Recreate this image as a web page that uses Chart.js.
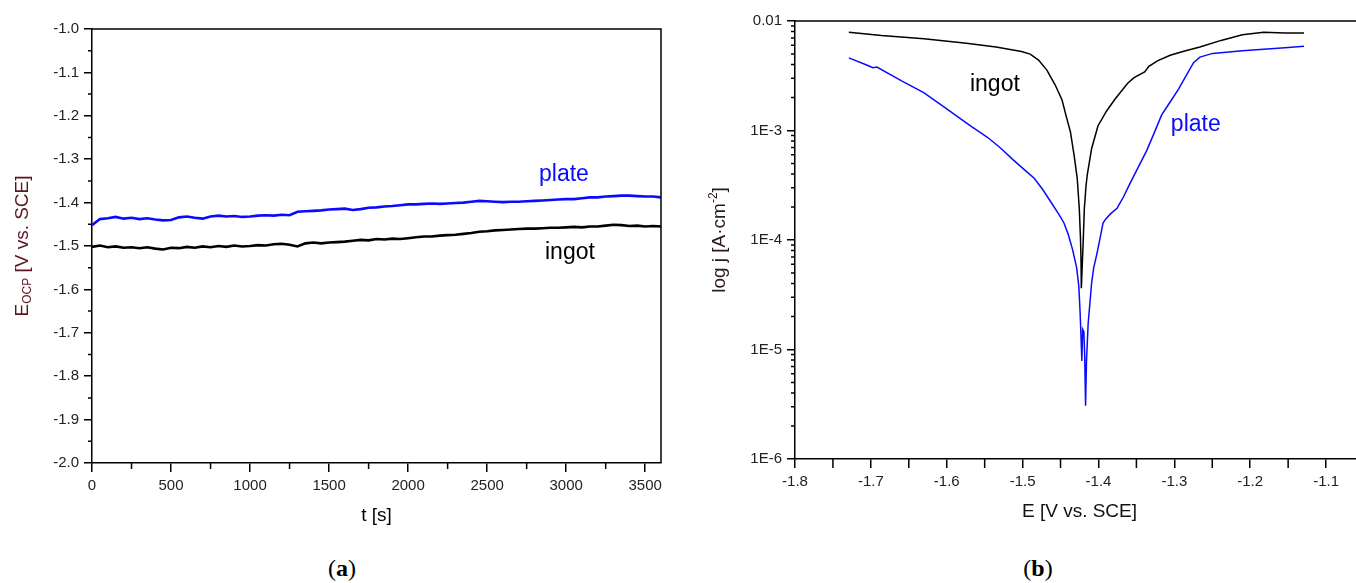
<!DOCTYPE html>
<html lang="en">

<head>
    <meta charset="UTF-8">
    <title>OCP and polarization curves</title>
    <script src="https://cdn.jsdelivr.net/npm/chart.js"></script>
    <style>
        body { margin: 0; background: #fff; overflow: hidden; width: 1356px; height: 583px; position: relative; }
        canvas { position: absolute; top: 0; }
        #ocpChart { left: 0; }
        #polChart { left: 700px; }
        .caption { position: absolute; top: 555px; font: 24px "Liberation Serif", "DejaVu Serif", serif; color: #000; transform: translateX(-50%); }
        .caption b { font-weight: bold; }
    </style>
</head>

<body>
    <canvas id="ocpChart" width="680" height="540"></canvas>
    <canvas id="polChart" width="680" height="540"></canvas>
    <div class="caption" style="left:342px">(<b>a</b>)</div>
    <div class="caption" style="left:1038px">(<b>b</b>)</div>

    <script>
        /** data (a) : open circuit potential vs time **/
        const timeS = [0, 50, 100, 150, 200, 250, 300, 350, 400, 450, 500, 550, 600, 650, 700, 750, 800, 850, 900, 950,
            1000, 1050, 1100, 1150, 1200, 1250, 1300, 1350, 1400, 1450, 1500, 1550, 1600, 1650, 1700, 1750, 1800, 1850, 1900, 1950,
            2000, 2050, 2100, 2150, 2200, 2250, 2300, 2350, 2400, 2450, 2500, 2550, 2600, 2650, 2700, 2750, 2800, 2850, 2900, 2950,
            3000, 3050, 3100, 3150, 3200, 3250, 3300, 3350, 3400, 3450, 3500, 3550, 3600];
        const plateOcp = [-1.452, -1.438, -1.436, -1.433, -1.437, -1.435, -1.438, -1.436, -1.439, -1.441, -1.440, -1.434, -1.432, -1.435, -1.437, -1.432, -1.430, -1.432, -1.431, -1.433,
            -1.432, -1.430, -1.429, -1.430, -1.428, -1.429, -1.421, -1.420, -1.419, -1.418, -1.416, -1.415, -1.414, -1.417, -1.415, -1.412, -1.411, -1.409, -1.408, -1.406,
            -1.404, -1.404, -1.403, -1.402, -1.403, -1.402, -1.401, -1.400, -1.398, -1.396, -1.397, -1.398, -1.399, -1.398, -1.398, -1.397, -1.396, -1.395, -1.394, -1.393,
            -1.392, -1.392, -1.390, -1.388, -1.388, -1.386, -1.385, -1.384, -1.384, -1.385, -1.386, -1.386, -1.388];
        const ingotOcp = [-1.502, -1.499, -1.503, -1.501, -1.504, -1.503, -1.505, -1.503, -1.506, -1.508, -1.504, -1.505, -1.502, -1.504, -1.501, -1.503, -1.500, -1.502, -1.499, -1.501,
            -1.500, -1.498, -1.499, -1.496, -1.495, -1.497, -1.501, -1.494, -1.492, -1.494, -1.492, -1.491, -1.490, -1.488, -1.486, -1.487, -1.484, -1.485, -1.483, -1.484,
            -1.482, -1.480, -1.478, -1.478, -1.476, -1.475, -1.474, -1.472, -1.470, -1.467, -1.466, -1.464, -1.463, -1.462, -1.461, -1.460, -1.460, -1.459, -1.458, -1.458,
            -1.457, -1.456, -1.457, -1.455, -1.455, -1.453, -1.451, -1.452, -1.454, -1.453, -1.455, -1.454, -1.455];
        const timeTicks = [0, 500, 1000, 1500, 2000, 2500, 3000, 3500];
        const timeMinor = [250, 750, 1250, 1750, 2250, 2750, 3250];
        const ocpTicks = [-2.0, -1.9, -1.8, -1.7, -1.6, -1.5, -1.4, -1.3, -1.2, -1.1, -1.0];
        const ocpMinor = [-1.95, -1.85, -1.75, -1.65, -1.55, -1.45, -1.35, -1.25, -1.15, -1.05];

        /** data (b) : potentiodynamic polarization **/
        const ingotE = [-1.729, -1.686, -1.630, -1.574, -1.535, -1.5015, -1.490, -1.479, -1.468, -1.457, -1.448, -1.443, -1.437, -1.432, -1.428, -1.4253, -1.4237, -1.423, -1.4226,
            -1.4203, -1.4186, -1.4164, -1.4147, -1.409, -1.4007, -1.3895, -1.3783, -1.3615, -1.3531, -1.3391, -1.3335, -1.3223, -1.3055, -1.2887, -1.2663, -1.2383, -1.2103, -1.1823, -1.1543, -1.1291];
        const ingotJ = [7.9e-3, 7.36e-3, 6.87e-3, 6.25e-3, 5.78e-3, 5.26e-3, 4.98e-3, 4.40e-3, 3.56e-3, 2.60e-3, 1.90e-3, 1.39e-3, 9.74e-4, 5.86e-4, 3.66e-4, 1.95e-4, 1.04e-4, 6.52e-5, 3.62e-5,
            8.93e-5, 1.95e-4, 3.13e-4, 3.96e-4, 6.85e-4, 1.10e-3, 1.50e-3, 1.93e-3, 2.70e-3, 3.04e-3, 3.42e-3, 3.85e-3, 4.33e-3, 4.86e-3, 5.26e-3, 5.78e-3, 6.65e-3, 7.48e-3, 7.9e-3, 7.79e-3, 7.79e-3];
        const plateE = [-1.729, -1.7031, -1.6975, -1.692, -1.6583, -1.6303, -1.6023, -1.5687, -1.5463, -1.5295, -1.5127, -1.4959, -1.4847, -1.4735, -1.4623, -1.4511, -1.4455, -1.4399, -1.4343,
            -1.4287, -1.4259, -1.4242, -1.423, -1.4219, -1.4208, -1.4192, -1.4181, -1.417, -1.4158, -1.4136, -1.409, -1.4063, -1.4018, -1.3979, -1.394, -1.3906, -1.3839, -1.3755, -1.3671,
            -1.3587, -1.3475, -1.3363, -1.3279, -1.3167, -1.3055, -1.2943, -1.2831, -1.2747, -1.2663, -1.2495, -1.2103, -1.1543, -1.1291];
        const plateJ = [4.60e-3, 3.90e-3, 3.75e-3, 3.80e-3, 2.81e-3, 2.22e-3, 1.62e-3, 1.10e-3, 8.67e-4, 6.96e-4, 5.42e-4, 4.28e-4, 3.66e-4, 2.89e-4, 2.20e-4, 1.67e-4, 1.43e-4, 1.13e-4, 8.26e-5,
            5.57e-5, 3.77e-5, 2.18e-5, 1.31e-5, 7.86e-6, 1.53e-5, 1.45e-5, 8.5e-6, 3.07e-6, 7.86e-6, 1.72e-5, 4.07e-5, 5.57e-5, 7.63e-5, 1.04e-4, 1.43e-4, 1.55e-4, 1.74e-4, 1.95e-4, 2.47e-4,
            3.25e-4, 4.63e-4, 6.59e-4, 9.02e-4, 1.39e-3, 1.82e-3, 2.40e-3, 3.29e-3, 4.16e-3, 4.68e-3, 5.06e-3, 5.34e-3, 5.69e-3, 5.87e-3];
        const eTicks = [-1.8, -1.7, -1.6, -1.5, -1.4, -1.3, -1.2, -1.1];
        const eMinor = [-1.75, -1.65, -1.55, -1.45, -1.35, -1.25, -1.15];
        const jTicks = [1e-6, 1e-5, 1e-4, 1e-3, 1e-2];
        const jTickLabels = ["1E-6", "1E-5", "1E-4", "1E-3", "0.01"];
        const jMinor = [2e-6, 3e-6, 4e-6, 5e-6, 6e-6, 7e-6, 8e-6, 9e-6, 2e-5, 3e-5, 4e-5, 5e-5, 6e-5, 7e-5, 8e-5, 9e-5,
            2e-4, 3e-4, 4e-4, 5e-4, 6e-4, 7e-4, 8e-4, 9e-4, 2e-3, 3e-3, 4e-3, 5e-3, 6e-3, 7e-3, 8e-3, 9e-3];

        const FONT = '"Liberation Sans", Arial, sans-serif';
        const BLUE = '#0a0aff';
        Chart.defaults.font.family = FONT;

        /** small plugins **/
        // top / right frame line
        const frame = {
            id: 'frame',
            afterDraw(chart) {
                const { ctx, chartArea: a } = chart;
                ctx.save();
                ctx.strokeStyle = '#000';
                ctx.lineWidth = 1.5;
                ctx.beginPath();
                ctx.moveTo(a.left, a.top);
                ctx.lineTo(a.right, a.top);
                ctx.lineTo(a.right, a.bottom);
                ctx.stroke();
                ctx.restore();
            }
        };

        // minor ticks drawn through the scales
        function makeMinorTicks(xVals, xLen, yVals, yLen) {
            return {
                id: 'minorTicks',
                afterDraw(chart) {
                    const { ctx, chartArea: a, scales } = chart;
                    ctx.save();
                    ctx.strokeStyle = '#000';
                    ctx.lineWidth = 1.5;
                    ctx.beginPath();
                    xVals.forEach(v => {
                        const px = scales.x.getPixelForValue(v);
                        ctx.moveTo(px, a.bottom);
                        ctx.lineTo(px, a.bottom + xLen);
                    });
                    yVals.forEach(v => {
                        const py = scales.y.getPixelForValue(v);
                        ctx.moveTo(a.left, py);
                        ctx.lineTo(a.left - yLen, py);
                    });
                    ctx.stroke();
                    ctx.restore();
                }
            };
        }

        // curve names placed in data coordinates
        function makeCurveLabels(items) {
            return {
                id: 'curveLabels',
                afterDatasetsDraw(chart) {
                    const { ctx, scales } = chart;
                    ctx.save();
                    ctx.font = '23px ' + FONT;
                    ctx.textAlign = 'left';
                    ctx.textBaseline = 'alphabetic';
                    items.forEach(it => {
                        ctx.fillStyle = it.color;
                        ctx.fillText(it.text, scales.x.getPixelForValue(it.x), scales.y.getPixelForValue(it.y));
                    });
                    ctx.restore();
                }
            };
        }

        // vertical axis title with sub/superscript parts
        function makeRichTitle(xPos, color, parts) {
            return {
                id: 'richTitle',
                afterDraw(chart) {
                    const { ctx, chartArea: a } = chart;
                    ctx.save();
                    let total = 0;
                    const widths = parts.map(p => {
                        ctx.font = p.size + 'px ' + FONT;
                        const w = ctx.measureText(p.text).width;
                        total += w;
                        return w;
                    });
                    ctx.translate(xPos, (a.top + a.bottom) / 2);
                    ctx.rotate(-Math.PI / 2);
                    ctx.fillStyle = color;
                    ctx.textAlign = 'left';
                    ctx.textBaseline = 'middle';
                    let x = -total / 2;
                    parts.forEach((p, i) => {
                        ctx.font = p.size + 'px ' + FONT;
                        ctx.fillText(p.text, x, p.shift || 0);
                        x += widths[i];
                    });
                    ctx.restore();
                }
            };
        }

        const axisLine = { display: true, color: '#000', width: 1.5 };
        const tickFont = { family: FONT, size: 15 };
        const tickGrid = (len) => ({ display: true, drawOnChartArea: false, drawTicks: true, tickLength: len, color: '#000', lineWidth: 1.5 });

        document.addEventListener("DOMContentLoaded", () => {
            /** chart (a) **/
            new Chart(document.getElementById('ocpChart').getContext('2d'), {
                type: 'line',
                data: {
                    datasets: [{
                        label: 'plate',
                        data: timeS.map((t, i) => ({ x: t, y: plateOcp[i] })),
                        borderColor: BLUE,
                        borderWidth: 2.6,
                        pointRadius: 0,
                        fill: false
                    }, {
                        label: 'ingot',
                        data: timeS.map((t, i) => ({ x: t, y: ingotOcp[i] })),
                        borderColor: '#000',
                        borderWidth: 2.6,
                        pointRadius: 0,
                        fill: false
                    }]
                },
                options: {
                    responsive: false,
                    animation: false,
                    layout: { padding: { left: 0, top: 29, right: 19, bottom: 7 } },
                    plugins: {
                        legend: { display: false },
                        tooltip: { enabled: false }
                    },
                    scales: {
                        x: {
                            type: 'linear',
                            min: 0,
                            max: 3600,
                            afterBuildTicks: s => { s.ticks = timeTicks.map(v => ({ value: v })); },
                            afterFit: s => { s.height = 70; },
                            border: axisLine,
                            grid: tickGrid(9),
                            ticks: { font: tickFont, color: '#222', padding: 5, maxRotation: 0, autoSkip: false, callback: v => String(v) },
                            title: { display: true, text: 't [s]', color: '#000', font: { family: FONT, size: 19 }, padding: { top: 0, bottom: 6 } }
                        },
                        y: {
                            type: 'linear',
                            min: -2.0,
                            max: -1.0,
                            afterBuildTicks: s => { s.ticks = ocpTicks.map(v => ({ value: v })); },
                            afterFit: s => { s.width = 92; },
                            border: axisLine,
                            grid: tickGrid(8),
                            ticks: { font: tickFont, color: '#222', padding: 5, autoSkip: false, callback: v => Number(v).toFixed(1) }
                        }
                    }
                },
                plugins: [
                    frame,
                    makeMinorTicks(timeMinor, 6, ocpMinor, 4),
                    makeCurveLabels([
                        { text: 'plate', x: 2828, y: -1.350, color: BLUE },
                        { text: 'ingot', x: 2866, y: -1.531, color: '#000' }
                    ]),
                    makeRichTitle(23, '#5a1420', [
                        { text: 'E', size: 19 },
                        { text: 'OCP', size: 12, shift: 5 },
                        { text: ' [V vs. SCE]', size: 19 }
                    ])
                ]
            });

            /** chart (b) **/
            new Chart(document.getElementById('polChart').getContext('2d'), {
                type: 'line',
                data: {
                    datasets: [{
                        label: 'ingot',
                        data: ingotE.map((e, i) => ({ x: e, y: ingotJ[i] })),
                        borderColor: '#000',
                        borderWidth: 1.5,
                        pointRadius: 0,
                        fill: false
                    }, {
                        label: 'plate',
                        data: plateE.map((e, i) => ({ x: e, y: plateJ[i] })),
                        borderColor: BLUE,
                        borderWidth: 1.5,
                        pointRadius: 0,
                        fill: false
                    }]
                },
                options: {
                    responsive: false,
                    animation: false,
                    layout: { padding: { left: 0, top: 21, right: 16, bottom: 11 } },
                    plugins: {
                        legend: { display: false },
                        tooltip: { enabled: false }
                    },
                    scales: {
                        x: {
                            type: 'linear',
                            min: -1.8,
                            max: -1.05,
                            afterBuildTicks: s => { s.ticks = eTicks.map(v => ({ value: v })); },
                            afterFit: s => { s.height = 70; },
                            border: axisLine,
                            grid: tickGrid(9),
                            ticks: { font: tickFont, color: '#222', padding: 5, maxRotation: 0, autoSkip: false, callback: v => Number(v).toFixed(1) },
                            title: { display: true, text: 'E [V vs. SCE]', color: '#111', font: { family: FONT, size: 19 }, padding: { top: 0, bottom: 6 } }
                        },
                        y: {
                            type: 'logarithmic',
                            min: 1e-6,
                            max: 1e-2,
                            afterBuildTicks: s => { s.ticks = jTicks.map(v => ({ value: v })); },
                            afterFit: s => { s.width = 95; },
                            border: axisLine,
                            grid: tickGrid(8),
                            ticks: { font: tickFont, color: '#222', padding: 5, autoSkip: false, callback: (v) => jTickLabels[jTicks.findIndex(t => Math.abs(Math.log10(t) - Math.log10(v)) < 1e-6)] }
                        }
                    }
                },
                plugins: [
                    frame,
                    makeMinorTicks(eMinor, 9, jMinor, 4),
                    makeCurveLabels([
                        { text: 'ingot', x: -1.5694, y: 2.30e-3, color: '#000' },
                        { text: 'plate', x: -1.3046, y: 9.9e-4, color: BLUE }
                    ]),
                    makeRichTitle(20, '#2a1a1a', [
                        { text: 'log j [A\u00b7cm', size: 19 },
                        { text: '-2', size: 12, shift: -6 },
                        { text: ']', size: 19 }
                    ])
                ]
            });
        });
    </script>
</body>

</html>
